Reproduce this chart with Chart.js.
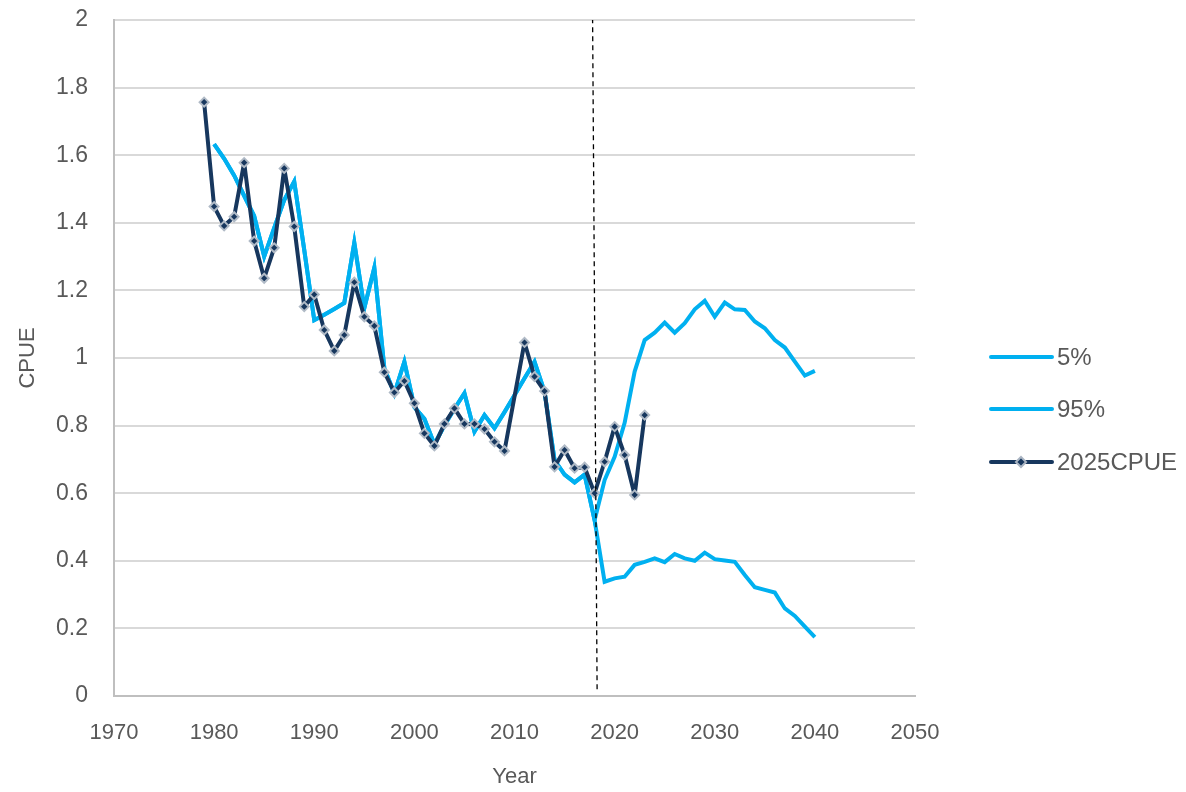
<!DOCTYPE html>
<html>
<head>
<meta charset="utf-8">
<script src="https://cdn.jsdelivr.net/npm/chart.js@4.4.1/dist/chart.umd.min.js"></script>
<style>
  html, body { margin: 0; padding: 0; background: #fff; }
  #wrap { width: 1186px; height: 792px; }
</style>
</head>
<body>
<div id="wrap"><canvas id="cpueChart"></canvas></div>
<script>
// 2025 CPUE index (observed), 2010 has no point
const cpueYears = [1979, 1980, 1981, 1982, 1983, 1984, 1985, 1986, 1987, 1988, 1989,
    1990, 1991, 1992, 1993, 1994, 1995, 1996, 1997, 1998, 1999,
    2000, 2001, 2002, 2003, 2004, 2005, 2006, 2007, 2008, 2009,
    2010, 2011, 2012, 2013, 2014, 2015, 2016, 2017, 2018, 2019,
    2020, 2021, 2022, 2023];
const cpueValues = [1.757, 1.448, 1.391, 1.418, 1.578, 1.346, 1.236, 1.326, 1.561, 1.389, 1.152,
    1.188, 1.083, 1.021, 1.068, 1.224, 1.122, 1.095, 0.958, 0.898, 0.932,
    0.866, 0.777, 0.740, 0.805, 0.851, 0.805, 0.805, 0.790, 0.752, 0.725,
    null, 1.046, 0.945, 0.902, 0.678, 0.728, 0.674, 0.677, 0.600, 0.693,
    0.797, 0.713, 0.595, 0.831];

// model fit (shared by both bands up to 2018), then projections
const bandYears = [1980, 1981, 1982, 1983, 1984, 1985, 1986, 1987, 1988, 1989,
    1990, 1991, 1992, 1993, 1994, 1995, 1996, 1997, 1998, 1999,
    2000, 2001, 2002, 2003, 2004, 2005, 2006, 2007, 2008, 2009,
    2010, 2011, 2012, 2013, 2014, 2015, 2016, 2017, 2018, 2019,
    2020, 2021, 2022, 2023, 2024, 2025, 2026, 2027, 2028, 2029,
    2030, 2031, 2032, 2033, 2034, 2035, 2036, 2037, 2038, 2039, 2040];
const fitValues = [1.633, 1.59, 1.54, 1.48, 1.42, 1.30, 1.385, 1.467, 1.522, 1.32,
    1.112, 1.128, 1.145, 1.163, 1.341, 1.148, 1.267, 0.97, 0.895, 0.989,
    0.855, 0.82, 0.745, 0.80, 0.85, 0.896, 0.782, 0.831, 0.792, 0.84,
    0.89, 0.94, 0.989, 0.90, 0.698, 0.655, 0.632, 0.655, 0.52];
const low5 = [0.338, 0.348, 0.353, 0.388, 0.397, 0.407, 0.396, 0.42, 0.407, 0.40, 0.424,
    0.405, 0.401, 0.397, 0.358, 0.322, 0.314, 0.306, 0.259, 0.237, 0.205, 0.174];
const high95 = [0.639, 0.708, 0.808, 0.96, 1.053, 1.075, 1.105, 1.075, 1.103, 1.144, 1.169,
    1.122, 1.164, 1.144, 1.142, 1.108, 1.088, 1.053, 1.031, 0.989, 0.948, 0.962];

// vertical dashed marker at the end of the data period
const markerX = [2018.25, 2017.8];
const markerY = [0.02, 2];

const yTicks = [0, 0.2, 0.4, 0.6, 0.8, 1, 1.2, 1.4, 1.6, 1.8, 2];
const xTicks = [1970, 1980, 1990, 2000, 2010, 2020, 2030, 2040, 2050];

const LIGHT = '#00B0F0';
const DARK = '#17375E';
const TEXT = '#595959';
const FONT = '"Liberation Sans", Arial, sans-serif';

function toPoints(xs, ys) {
    return xs.map((x, i) => ({ x: x, y: ys[i] }));
}

const lowSeries = toPoints(bandYears, fitValues.concat(low5));
const highSeries = toPoints(bandYears, fitValues.concat(high95));

// legend drawn by hand so it sits where Excel put it
const sideLegend = {
    id: 'sideLegend',
    afterDraw(chart) {
        const c = chart.ctx;
        const items = [
            { label: '5%', color: LIGHT, y: 357, marker: false },
            { label: '95%', color: LIGHT, y: 409, marker: false },
            { label: '2025CPUE', color: DARK, y: 462, marker: true }
        ];
        c.save();
        c.font = '24px ' + FONT;
        c.textBaseline = 'middle';
        items.forEach(it => {
            c.strokeStyle = it.color;
            c.lineWidth = 4;
            c.lineCap = 'round';
            c.beginPath();
            c.moveTo(991, it.y);
            c.lineTo(1052, it.y);
            c.stroke();
            if (it.marker) {
                c.fillStyle = DARK;
                c.strokeStyle = '#A9B4C2';
                c.lineWidth = 2;
                c.beginPath();
                c.moveTo(1021, it.y - 5);
                c.lineTo(1026, it.y);
                c.lineTo(1021, it.y + 5);
                c.lineTo(1016, it.y);
                c.closePath();
                c.fill();
                c.stroke();
            }
            c.fillStyle = TEXT;
            c.fillText(it.label, 1057, it.y + 1);
        });
        c.restore();
    }
};

new Chart(document.getElementById('cpueChart'), {
    type: 'line',
    data: {
        datasets: [
            {
                label: '5%',
                data: lowSeries,
                borderColor: LIGHT,
                borderWidth: 4,
                pointRadius: 0,
                tension: 0,
                order: 2
            },
            {
                label: '95%',
                data: highSeries,
                borderColor: LIGHT,
                borderWidth: 4,
                pointRadius: 0,
                tension: 0,
                order: 3
            },
            {
                label: '2025CPUE',
                data: toPoints(cpueYears, cpueValues),
                borderColor: DARK,
                borderWidth: 4,
                borderJoinStyle: 'round',
                pointStyle: 'rectRot',
                pointRadius: 4.5,
                pointBackgroundColor: DARK,
                pointBorderColor: '#B0BAC6',
                pointBorderWidth: 2,
                spanGaps: true,
                tension: 0,
                order: 1
            },
            {
                label: 'marker',
                data: toPoints(markerX, markerY),
                borderColor: '#000',
                borderWidth: 1.3,
                borderDash: [5, 4],
                pointRadius: 0,
                order: 0
            }
        ]
    },
    options: {
        responsive: true,
        maintainAspectRatio: false,
        animation: false,
        layout: { padding: { left: 0, right: 271, top: 20, bottom: 0 } },
        plugins: {
            legend: { display: false },
            tooltip: { enabled: false }
        },
        scales: {
            x: {
                type: 'linear',
                min: 1970,
                max: 2050,
                afterBuildTicks: s => { s.ticks = xTicks.map(v => ({ value: v })); },
                afterFit: s => { s.height = 96; },
                grid: { display: false, drawTicks: false },
                border: { display: true, color: '#BFBFBF', width: 2 },
                ticks: {
                    color: TEXT,
                    padding: 24,
                    font: { family: FONT, size: 22 },
                    callback: v => String(v)
                },
                title: {
                    display: true,
                    text: 'Year',
                    color: TEXT,
                    padding: { top: 0, bottom: 2 },
                    font: { family: FONT, size: 22 }
                }
            },
            y: {
                min: 0,
                max: 2,
                afterBuildTicks: s => { s.ticks = yTicks.map(v => ({ value: v })); },
                afterFit: s => { s.width = 114; s.paddingTop = 0; s.paddingBottom = 0; },
                grid: { color: '#D9D9D9', lineWidth: 2, drawTicks: false },
                border: { display: true, color: '#BFBFBF', width: 2 },
                ticks: {
                    color: TEXT,
                    padding: 26,
                    font: { family: FONT, size: 23 },
                    callback: v => String(Number(v.toFixed(1)))
                },
                title: {
                    display: true,
                    text: 'CPUE',
                    color: TEXT,
                    padding: { top: 15, bottom: 0 },
                    font: { family: FONT, size: 22 }
                }
            }
        }
    },
    plugins: [sideLegend]
});
</script>
</body>
</html>
